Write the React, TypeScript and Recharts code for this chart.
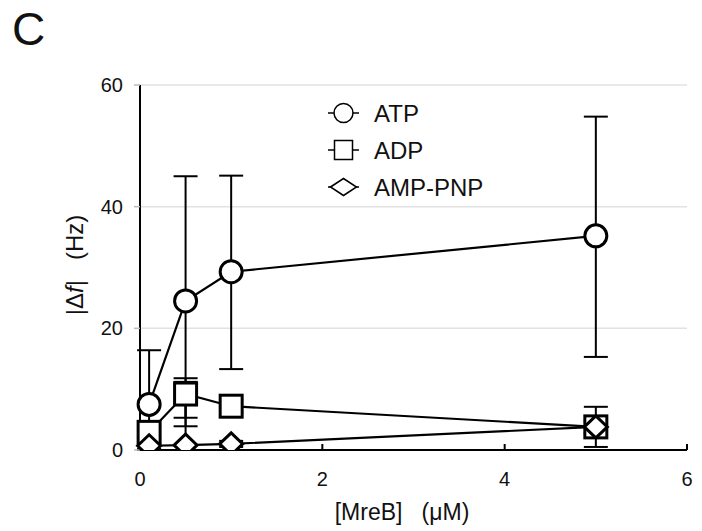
import {
  ComposedChart,
  Line,
  XAxis,
  YAxis,
  CartesianGrid,
  ErrorBar,
  Legend,
} from 'recharts';

const concentrations = [0.1, 0.5, 1, 5];

const atpValues = [7.5, 24.5, 29.3, 35.2];
const atpErrors: [number, number][] = [[7.5, 8.9], [20.6, 20.5], [16.0, 15.8], [19.9, 19.6]];

const adpValues = [2.9, 9.2, 7.2, 3.8];
const adpErrors: [number, number][] = [[1.0, 1.0], [3.9, 2.6], [1.0, 1.0], [3.3, 3.3]];

const ampValues = [0.7, 0.8, 1.0, 3.8];
const ampErrors: [number, number][] = [[0.5, 0.5], [0.8, 10.4], [0.5, 0.5], [1.0, 1.0]];

const xTicks = [0, 2, 4, 6];
const yTicks = [0, 20, 40, 60];

const seriesNames = ['ATP', 'ADP', 'AMP-PNP'];

const data = concentrations.map((c, i) => ({
  x: c,
  atp: atpValues[i],
  atpErr: atpErrors[i],
  adp: adpValues[i],
  adpErr: adpErrors[i],
  amp: ampValues[i],
  ampErr: ampErrors[i],
}));

const FONT = '"Liberation Sans", Arial, Helvetica, sans-serif';
const TICK_MARGIN = 22;
const GAP = '\u00a0\u00a0\u00a0';

type Kind = 'circle' | 'square' | 'diamond';

function Marker({ kind, cx, cy, w, h, sw }: { kind: Kind; cx: number; cy: number; w: number; h: number; sw: number }) {
  if (kind === 'circle') {
    return <circle cx={cx} cy={cy} r={w} fill="#fff" stroke="#000" strokeWidth={sw} />;
  }
  if (kind === 'square') {
    return (
      <rect x={cx - w} y={cy - h} width={w * 2} height={h * 2}
        fill="#fff" stroke="#000" strokeWidth={sw} />
    );
  }
  return (
    <polygon
      points={`${cx - w},${cy} ${cx},${cy - h} ${cx + w},${cy} ${cx},${cy + h}`}
      fill="#fff" stroke="#000" strokeWidth={sw}
    />
  );
}

const makeDot = (kind: Kind) => (props: any) => (
  <Marker key={`${kind}-${props.index}`} kind={kind} cx={props.cx} cy={props.cy}
    w={kind === 'diamond' ? 11.5 : 11} h={kind === 'diamond' ? 11 : 11} sw={3} />
);

function XTick(props: any) {
  const { x, y, payload } = props;
  const axisY = y - TICK_MARGIN;
  return (
    <g>
      {payload.value !== 0 && (
        <line x1={x} x2={x} y1={axisY} y2={axisY - 6} stroke="#000" strokeWidth={2} />
      )}
      <text x={x} y={y} dy="0.71em" textAnchor="middle" fontSize={20} fill="#111" fontFamily={FONT}>
        {payload.value}
      </text>
    </g>
  );
}

function LegendBox() {
  const kinds: Kind[] = ['circle', 'square', 'diamond'];
  const sizes = [[9.5, 9.5], [9, 9.5], [13, 8.5]];
  return (
    <svg width={220} height={110}>
      {seriesNames.map((name, i) => {
        const cy = 18 + i * 37;
        return (
          <g key={name}>
            <line x1={23} x2={54} y1={cy} y2={cy} stroke="#000" strokeWidth={1.5} />
            <Marker kind={kinds[i]} cx={38.5} cy={cy} w={sizes[i][0]} h={sizes[i][1]} sw={1.5} />
            <text x={69} y={cy} dy="0.36em" fontSize={24} fill="#111" fontFamily={FONT}>
              {name}
            </text>
          </g>
        );
      })}
    </svg>
  );
}

export default function App() {
  return (
    <div style={{ position: 'absolute', left: 0, top: 0, width: 702, height: 531, background: '#fff' }}>
      <div style={{ position: 'absolute', left: 12, top: 6, fontSize: 46, lineHeight: 1, fontFamily: FONT, color: '#111' }}>
        C
      </div>
      <ComposedChart width={702} height={531} data={data}
        margin={{ top: 85, right: 15, left: 0, bottom: 0 }}>
        <CartesianGrid horizontal vertical={false} stroke="#e2e2e2" strokeWidth={1.5} />
        <XAxis
          type="number"
          dataKey="x"
          domain={[0, 6]}
          ticks={xTicks}
          height={81}
          axisLine={{ stroke: '#000', strokeWidth: 2 }}
          tickLine={false}
          tickSize={0}
          tickMargin={TICK_MARGIN}
          tick={<XTick />}
          label={{
            content: () => (
              <text x={402} y={520}
                textAnchor="middle" fontSize={23} fill="#111" fontFamily={FONT}>
                {`[MreB]${GAP}(μM)`}
              </text>
            ),
          }}
        />
        <YAxis
          type="number"
          domain={[0, 60]}
          ticks={yTicks}
          width={140}
          allowDataOverflow
          axisLine={{ stroke: '#000', strokeWidth: 2 }}
          tickLine={{ stroke: '#bbb', strokeWidth: 1.5 }}
          tickSize={6}
          tickMargin={11}
          tick={{ fontSize: 20, fill: '#111', fontFamily: FONT }}
          label={{
            content: () => (
              <text x={74} y={265} transform="rotate(-90, 74, 265)" textAnchor="middle"
                dominantBaseline="central" fontSize={24} fill="#111" fontFamily={FONT}>
                |Δ<tspan fontStyle="italic">f</tspan>|{GAP}(Hz)
              </text>
            ),
          }}
        />
        <Legend layout="vertical" align="center" verticalAlign="middle"
          wrapperStyle={{ top: 95, left: 305, width: 220 }} content={<LegendBox />} />

        <Line dataKey="atp" stroke="none" dot={makeDot('circle')} isAnimationActive={false} legendType="none">
          <ErrorBar dataKey="atpErr" direction="y" width={12} stroke="#000" strokeWidth={2} />
        </Line>
        <Line dataKey="atp" stroke="#000" strokeWidth={2.2} dot={false} isAnimationActive={false} legendType="none" />

        <Line dataKey="adp" stroke="none" dot={makeDot('square')} isAnimationActive={false} legendType="none">
          <ErrorBar dataKey="adpErr" direction="y" width={12} stroke="#000" strokeWidth={2} />
        </Line>
        <Line dataKey="adp" stroke="#000" strokeWidth={2.2} dot={false} isAnimationActive={false} legendType="none" />

        <Line dataKey="amp" stroke="none" dot={makeDot('diamond')} isAnimationActive={false} legendType="none">
          <ErrorBar dataKey="ampErr" direction="y" width={12} stroke="#000" strokeWidth={2} />
        </Line>
        <Line dataKey="amp" stroke="#000" strokeWidth={2.2} dot={false} isAnimationActive={false} legendType="none" />
      </ComposedChart>
    </div>
  );
}
